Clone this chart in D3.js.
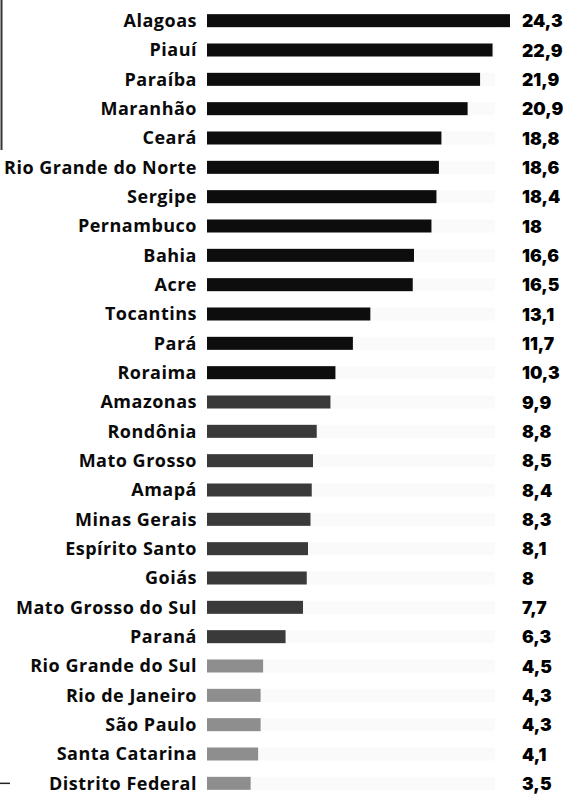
<!DOCTYPE html>
<meta charset="utf-8">
<style>
    body { margin: 0; background: #fff; }
    .label { font-family: "Open Sans", sans-serif; font-weight: 700; font-size: 18px; letter-spacing: 0.5px; fill: #0a0a0a; }
    .value { font-family: Inter, sans-serif; font-weight: 900; font-size: 17.5px; fill: #000; }
</style>
<svg width="579" height="811"></svg>
<script src="https://d3js.org/d3.v7.min.js"></script>
<script>

    var states = ["Alagoas", "Piauí", "Paraíba", "Maranhão", "Ceará", "Rio Grande do Norte",
        "Sergipe", "Pernambuco", "Bahia", "Acre", "Tocantins", "Pará", "Roraima",
        "Amazonas", "Rondônia", "Mato Grosso", "Amapá", "Minas Gerais", "Espírito Santo",
        "Goiás", "Mato Grosso do Sul", "Paraná", "Rio Grande do Sul", "Rio de Janeiro",
        "São Paulo", "Santa Catarina", "Distrito Federal"];

    var values = [24.3, 22.9, 21.9, 20.9, 18.8, 18.6, 18.4, 18, 16.6, 16.5, 13.1, 11.7, 10.3,
        9.9, 8.8, 8.5, 8.4, 8.3, 8.1, 8, 7.7, 6.3, 4.5, 4.3, 4.3, 4.1, 3.5];

    var valueLabels = ["24,3", "22,9", "21,9", "20,9", "18,8", "18,6", "18,4", "18", "16,6",
        "16,5", "13,1", "11,7", "10,3", "9,9", "8,8", "8,5", "8,4", "8,3", "8,1", "8", "7,7",
        "6,3", "4,5", "4,3", "4,3", "4,1", "3,5"];

    // shade groups as printed
    var shades = ["#0d0d0d", "#3a3a3a", "#8e8e8e"];

    var data = states.map(function(d, i) {
        return {
            name: d,
            value: values[i],
            label: valueLabels[i],
            shade: i < 13 ? shades[0] : (i < 22 ? shades[1] : shades[2])
        };
    });

    var svg = d3.select("svg");

    var x = d3.scaleLinear()
        .domain([0, 24.3])
        .range([207, 510]);

    var y = d3.scaleBand()
        .domain(states)
        .range([6, 798]);

    var barH = 13;

    // frame bits at left edge
    svg.append("line")
        .attr("x1", 1.5).attr("x2", 1.5)
        .attr("y1", 0).attr("y2", 150)
        .attr("stroke", "#333").attr("stroke-width", 2);

    svg.append("line")
        .attr("x1", 0).attr("x2", 10)
        .attr("y1", y("Distrito Federal") + y.bandwidth() / 2)
        .attr("y2", y("Distrito Federal") + y.bandwidth() / 2)
        .attr("stroke", "#222").attr("stroke-width", 1.5);

    var row = svg.selectAll(".row")
        .data(data)
        .enter().append("g")
        .attr("class", "row")
        .attr("transform", function(d) { return "translate(0," + (y(d.name) + y.bandwidth() / 2) + ")"; });

    // faint track behind the bars
    row.append("rect")
        .attr("x", x(0))
        .attr("y", -barH / 2)
        .attr("width", 495 - x(0))
        .attr("height", barH)
        .attr("fill", "#fafafa");

    row.append("rect")
        .attr("x", x(0))
        .attr("y", -barH / 2)
        .attr("width", function(d) { return x(d.value) - x(0); })
        .attr("height", barH)
        .attr("fill", function(d) { return d.shade; });

    row.append("text")
        .attr("class", "label")
        .attr("x", 197)
        .attr("dy", "0.35em")
        .attr("text-anchor", "end")
        .text(function(d) { return d.name; });

    row.append("text")
        .attr("class", "value")
        .attr("x", 522)
        .attr("dy", "0.38em")
        .text(function(d) { return d.label; });

</script>
